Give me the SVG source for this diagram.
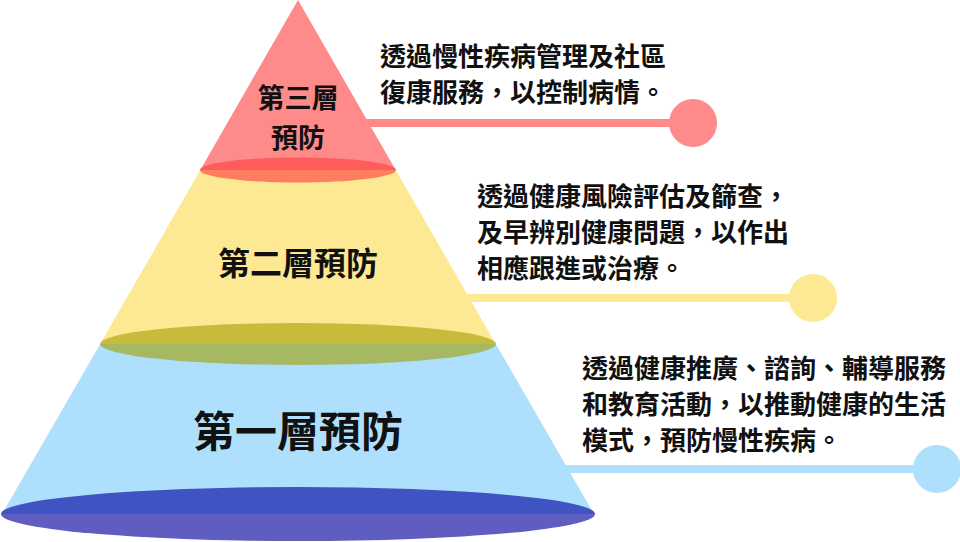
<svg xmlns="http://www.w3.org/2000/svg" width="960" height="542" viewBox="0 0 960 542">
<style>
.lbl{font-family:"Noto Sans CJK TC","Noto Sans CJK SC",sans-serif;font-weight:700;fill:#111;text-anchor:middle}
.desc{font-family:"Noto Sans CJK TC","Noto Sans CJK SC",sans-serif;font-weight:700;font-size:26px;fill:#111}
.red{fill:#ff8a8a}.redS{stroke:#ff8a8a}
.yel{fill:#fde994}.yelS{stroke:#fde994}
.blu{fill:#aee0fe}.bluS{stroke:#aee0fe}
.conn line{stroke-width:8}
</style>
<rect width="960" height="542" fill="#ffffff"/>
<g id="connectors" class="conn">
  <line class="redS" x1="340" y1="123" x2="693" y2="123"/>
  <circle class="red" cx="693" cy="123" r="24"/>
  <line class="yelS" x1="440" y1="298" x2="813" y2="298"/>
  <circle class="yel" cx="813" cy="298" r="24"/>
  <line class="bluS" x1="540" y1="469" x2="937" y2="469"/>
  <circle class="blu" cx="937" cy="469" r="24"/>
</g>
<g id="tier1">
  <polygon class="blu" points="100.2,344 495.8,344 594,514 2,514"/>
  <path d="M1,514 A297,27 0 0 1 595,514 Z" fill="#4053c3"/>
  <path d="M1,514 A297,27 0 0 0 595,514 Z" fill="#5f5dbf"/>
  <text class="lbl" x="298" y="447" font-size="42">第一層預防</text>
</g>
<g id="tier2">
  <polygon class="yel" points="200.3,170 395.7,170 495.8,344 100.2,344"/>
  <path d="M100,344 A198,21 0 0 1 496,344 Z" fill="#c6bb3b"/>
  <path d="M100,344 A198,21 0 0 0 496,344 Z" fill="#a7b862"/>
  <text class="lbl" x="298" y="275" font-size="32">第二層預防</text>
</g>
<g id="tier3">
  <polygon class="red" points="298,0 395.7,170 200.3,170"/>
  <path d="M200,170 A98,12.5 0 0 1 396,170 Z" fill="#ff5c5c"/>
  <path d="M200,170 A98,12.5 0 0 0 396,170 Z" fill="#ff7e5f"/>
  <text class="lbl" x="298" y="108" font-size="27">第三層</text>
  <text class="lbl" x="298" y="148" font-size="27">預防</text>
</g>
<g id="desc3">
  <text class="desc" x="380" y="66">透過慢性疾病管理及社區</text>
  <text class="desc" x="380" y="102">復康服務，以控制病情。</text>
</g>
<g id="desc2">
  <text class="desc" x="477" y="206">透過健康風險評估及篩查，</text>
  <text class="desc" x="477" y="242">及早辨別健康問題，以作出</text>
  <text class="desc" x="477" y="278">相應跟進或治療。</text>
</g>
<g id="desc1">
  <text class="desc" x="582" y="378">透過健康推廣、諮詢、輔導服務</text>
  <text class="desc" x="582" y="414">和教育活動，以推動健康的生活</text>
  <text class="desc" x="582" y="450">模式，預防慢性疾病。</text>
</g>
</svg>
